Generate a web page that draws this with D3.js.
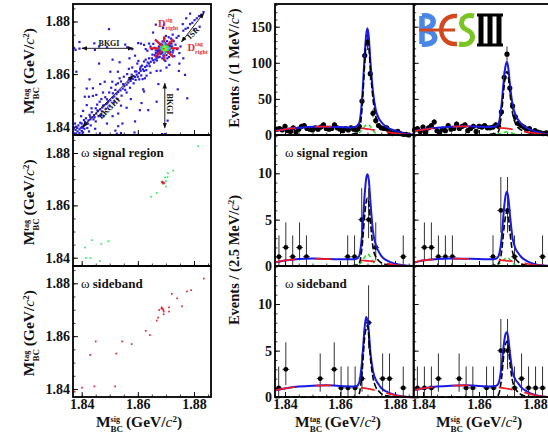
<!DOCTYPE html>
<html>
<head>
<meta charset="utf-8">
<script src="https://cdn.jsdelivr.net/npm/d3@7"></script>
<style>
  html, body { margin: 0; padding: 0; background: #fff; overflow: hidden; }
  text { font-family: "Liberation Serif", serif; font-weight: bold; fill: #111; }
</style>
</head>
<body>
<svg id="chart"></svg>
<script>
(() => {

  // scatter, all events [Msig, Mtag]
  const bandHorizontal = [[1.8372,1.8700],[1.8378,1.8692],[1.8392,1.8722],[1.8392,1.8697],[1.8447,1.8692],[1.8445,1.8717],[1.8462,1.8705],[1.8490,1.8702],[1.8555,1.8712],[1.8562,1.8702],[1.8580,1.8695],[1.8601,1.8718],[1.8611,1.8716],[1.8622,1.8711],[1.8628,1.8695],[1.8634,1.8689],[1.8640,1.8716],[1.8645,1.8705],[1.8650,1.8695],[1.8655,1.8715],[1.8660,1.8700],[1.8664,1.8690],[1.8497,1.8771],[1.8381,1.8609],[1.8418,1.8545],[1.8462,1.8640],[1.8510,1.8655],[1.8535,1.8645],[1.8570,1.8660],[1.8590,1.8670]];
  const cluster = [[1.8660,1.8672],[1.8664,1.8680],[1.8667,1.8662],[1.8670,1.8690],[1.8672,1.8675],[1.8675,1.8705],[1.8677,1.8684],[1.8678,1.8666],[1.8680,1.8695],[1.8681,1.8715],[1.8683,1.8678],[1.8685,1.8688],[1.8686,1.8702],[1.8687,1.8660],[1.8688,1.8724],[1.8690,1.8685],[1.8691,1.8670],[1.8692,1.8708],[1.8693,1.8655],[1.8694,1.8735],[1.8696,1.8680],[1.8698,1.8650],[1.8699,1.8715],[1.8700,1.8745],[1.8702,1.8672],[1.8703,1.8692],[1.8704,1.8725],[1.8705,1.8660],[1.8707,1.8708],[1.8708,1.8682],[1.8710,1.8740],[1.8711,1.8665],[1.8712,1.8700],[1.8714,1.8720],[1.8716,1.8685],[1.8718,1.8735],[1.8720,1.8672],[1.8722,1.8705],[1.8724,1.8750],[1.8726,1.8690],[1.8728,1.8725],[1.8730,1.8668],[1.8734,1.8712],[1.8738,1.8738],[1.8740,1.8695],[1.8745,1.8745],[1.8748,1.8680],[1.8752,1.8705],[1.8690,1.8775],[1.8693,1.8788],[1.8654,1.8758],[1.8664,1.8788],[1.8760,1.8790],[1.8712,1.8635],[1.8702,1.8625],[1.8748,1.8640],[1.8768,1.8597],[1.8746,1.8612],[1.8762,1.8660],[1.8682,1.8688],[1.8684,1.8698],[1.8686,1.8708],[1.8688,1.8682],[1.8689,1.8712],[1.8691,1.8692],[1.8692,1.8702],[1.8698,1.8708],[1.8700,1.8686],[1.8702,1.8704],[1.8704,1.8698],[1.8706,1.8690],[1.8708,1.8702],[1.8710,1.8692],[1.8678,1.8700],[1.8676,1.8692],[1.8712,1.8710],[1.8714,1.8695],[1.8680,1.8678],[1.8716,1.8708],[1.8692,1.8678],[1.8696,1.8718],[1.8668,1.8668],[1.8672,1.8684],[1.8720,1.8716],[1.8724,1.8682],[1.8674,1.8664],[1.8668,1.8652]];
  const bandDiagonal = [[1.8397,1.8396],[1.8402,1.8400],[1.8408,1.8404],[1.8413,1.8411],[1.8418,1.8414],[1.8424,1.8424],[1.8431,1.8428],[1.8438,1.8436],[1.8444,1.8444],[1.8452,1.8450],[1.8458,1.8459],[1.8466,1.8466],[1.8474,1.8473],[1.8480,1.8481],[1.8487,1.8486],[1.8494,1.8495],[1.8502,1.8500],[1.8510,1.8510],[1.8516,1.8515],[1.8524,1.8524],[1.8530,1.8532],[1.8538,1.8538],[1.8546,1.8545],[1.8552,1.8554],[1.8560,1.8560],[1.8566,1.8568],[1.8574,1.8574],[1.8582,1.8582],[1.8590,1.8589],[1.8596,1.8598],[1.8604,1.8604],[1.8610,1.8612],[1.8618,1.8618],[1.8626,1.8627],[1.8632,1.8632],[1.8640,1.8640],[1.8646,1.8647],[1.8654,1.8653],[1.8762,1.8765],[1.8770,1.8772],[1.8778,1.8776],[1.8786,1.8790],[1.8794,1.8795],[1.8802,1.8805],[1.8810,1.8812],[1.8818,1.8820],[1.8826,1.8826],[1.8834,1.8836],[1.8800,1.8770],[1.8786,1.8830],[1.8820,1.8780],[1.8772,1.8812],[1.8568,1.8580],[1.8585,1.8592],[1.8600,1.8590],[1.8608,1.8620],[1.8622,1.8612],[1.8635,1.8644],[1.8642,1.8630],[1.8650,1.8660],[1.8658,1.8644],[1.8662,1.8655],[1.8615,1.8632],[1.8595,1.8610],[1.8578,1.8598],[1.8640,1.8660],[1.8652,1.8674],[1.8628,1.8655]];
  const cloudLower = [[1.8440,1.8546],[1.8428,1.8580],[1.8466,1.8562],[1.8482,1.8571],[1.8509,1.8571],[1.8529,1.8565],[1.8502,1.8609],[1.8529,1.8609],[1.8535,1.8584],[1.8440,1.8517],[1.8411,1.8514],[1.8426,1.8514],[1.8452,1.8521],[1.8464,1.8495],[1.8491,1.8489],[1.8511,1.8527],[1.8520,1.8540],[1.8476,1.8530],[1.8550,1.8590],[1.8568,1.8620],[1.8590,1.8610],[1.8598,1.8640],[1.8610,1.8628],[1.8622,1.8648],[1.8630,1.8615],[1.8612,1.8595],[1.8617,1.8581],[1.8625,1.8584],[1.8631,1.8594],[1.8645,1.8605],[1.8667,1.8612],[1.8681,1.8613],[1.8673,1.8562],[1.8619,1.8542],[1.8622,1.8534],[1.8742,1.8542],[1.8776,1.8508],[1.8613,1.8490],[1.8667,1.8495],[1.8637,1.8463],[1.8607,1.8463],[1.8706,1.8423],[1.8686,1.8372],[1.8696,1.8372],[1.8560,1.8530],[1.8575,1.8505],[1.8540,1.8480],[1.8560,1.8472],[1.8530,1.8450],[1.8510,1.8440],[1.8478,1.8440],[1.8450,1.8420],[1.8490,1.8412],[1.8530,1.8402],[1.8545,1.8412],[1.8520,1.8385],[1.8435,1.8470],[1.8418,1.8482],[1.8405,1.8460],[1.8398,1.8440],[1.8428,1.8445],[1.8450,1.8470],[1.8468,1.8445],[1.8408,1.8425],[1.8395,1.8415],[1.8380,1.8400],[1.8372,1.8394],[1.8378,1.8388],[1.8385,1.8382],[1.8392,1.8390],[1.8400,1.8384],[1.8372,1.8375],[1.8380,1.8374],[1.8392,1.8376],[1.8405,1.8378],[1.8420,1.8395],[1.8432,1.8405],[1.8448,1.8392],[1.8465,1.8375],[1.8525,1.8373],[1.8540,1.8376],[1.8588,1.8378],[1.8590,1.8420],[1.8415,1.8432],[1.8422,1.8412],[1.8436,1.8455],[1.8442,1.8428],[1.8455,1.8484],[1.8460,1.8440],[1.8470,1.8505],[1.8472,1.8458],[1.8484,1.8512],[1.8486,1.8468],[1.8498,1.8530],[1.8500,1.8478],[1.8505,1.8548],[1.8515,1.8492],[1.8522,1.8560],[1.8528,1.8505],[1.8540,1.8572],[1.8542,1.8518],[1.8548,1.8562],[1.8555,1.8540],[1.8562,1.8600],[1.8572,1.8548],[1.8580,1.8625],[1.8585,1.8565],[1.8592,1.8578],[1.8602,1.8650],[1.8605,1.8580],[1.8388,1.8405],[1.8400,1.8412],[1.8376,1.8412],[1.8410,1.8392],[1.8426,1.8382],[1.8384,1.8395],[1.8404,1.8396],[1.8412,1.8418],[1.8430,1.8438],[1.8446,1.8436],[1.8456,1.8462],[1.8476,1.8480],[1.8490,1.8504]];

  // colour cells of the dense core [Msig, Mtag, level]
  const coreCells = [[1.8688,1.8692,1],[1.8688,1.8698,1],[1.8688,1.8704,1],[1.8694,1.8686,1],[1.8694,1.8692,2],[1.8694,1.8698,4],[1.8694,1.8704,2],[1.8694,1.8710,1],[1.8700,1.8692,2],[1.8700,1.8698,3],[1.8700,1.8704,2],[1.8706,1.8692,1],[1.8706,1.8698,1],[1.8706,1.8704,1],[1.8682,1.8698,0],[1.8712,1.8698,0],[1.8694,1.8680,0],[1.8694,1.8716,0]];
  const coreLevels = ['#22c8e8', '#33ee55', '#a8e020', '#ffd020', '#f02820'];
  const coreCentre = [1.8694, 1.8698];
  const redArms = [[-0.0052,0],[0.0052,0],[0,-0.0046],[0,0.0046],[-0.0033,-0.0034],[0.0033,0.0034],[-0.0033,0.0034],[0.0033,-0.0034]];

  const omegaSignal = [[1.8815,1.8826],[1.8726,1.8733],[1.8707,1.8723],[1.8706,1.8708],[1.8697,1.8707],[1.8700,1.8693],[1.8700,1.8672],[1.8688,1.8683],[1.8667,1.8647],[1.8647,1.8633],[1.8436,1.8467],[1.8495,1.8463],[1.8470,1.8453],[1.8412,1.8439],[1.8415,1.8399],[1.8431,1.8399],[1.8465,1.8387]];
  const omegaSignalRed = [[1.8692,1.8685],[1.8687,1.8689]];
  const omegaSideband = [[1.8835,1.8818],[1.8790,1.8774],[1.8775,1.8769],[1.8721,1.8760],[1.8740,1.8743],[1.8757,1.8713],[1.8711,1.8709],[1.8711,1.8693],[1.8685,1.8709],[1.8676,1.8699],[1.8691,1.8699],[1.8684,1.8704],[1.8689,1.8703],[1.8692,1.8693],[1.8692,1.8683],[1.8672,1.8670],[1.8667,1.8659],[1.8628,1.8620],[1.8643,1.8604],[1.8578,1.8570],[1.8544,1.8580],[1.8450,1.8580],[1.8430,1.8529],[1.8523,1.8534],[1.8401,1.8405],[1.8445,1.8410],[1.8519,1.8410],[1.8375,1.8390]];

  // binned projections
  const binsTop = d3.range(49).map(i => 1.837 + 0.001 * i);
  const countsTopTag = [8,9,7,12,6,5,10,4,8,12,13,9,8,7,10,8,11,14,9,8,9,14,10,8,6,9,7,10,8,7,12,47,110,129,85,30,20,13,10,9,10,5,2,4,5,2,1,1,0];
  const countsTopSig = [7,9,5,11,4,10,13,18,6,4,8,6,13,8,9,15,9,12,14,6,9,12,5,12,11,13,10,10,11,14,12,32,80,112,65,40,25,16,13,11,8,9,3,6,4,3,2,3,1];

  const binsSignalTag = [1.8378,1.8403,1.8428,1.8453,1.8478,1.8628,1.8653,1.8679,1.8704,1.8730,1.8830];
  const countsSignalTag = [1,2,1,2,1,1,1,5,5,2,1];
  const binsSignalSig = [1.8405,1.8430,1.8455,1.8480,1.8505,1.8650,1.8678,1.8702,1.8727,1.8827];
  const countsSignalSig = [2,2,1,1,1,1,6,6,1,1];
  const binsSideTag = [1.8377,1.8403,1.8528,1.8579,1.8604,1.8629,1.8655,1.8680,1.8704,1.8755,1.8780,1.8830];
  const countsSideTag = [1,3,2,3,1,1,1,2,8,2,2,1];
  const binsSideSig = [1.8380,1.8405,1.8430,1.8455,1.8529,1.8554,1.8578,1.8627,1.8652,1.8678,1.8702,1.8727,1.8752,1.8777,1.8802,1.8827];
  const countsSideSig = [1,1,1,2,2,1,1,1,1,5,5,1,2,1,1,1];

  // error bar ends for small counts, index = count
  const poissonHigh = [0,3.3,4.7,5.9,7.2,8.4,9.6,10.8,12];
  const poissonLow = [0,0,0.6,1.3,2,3,3.6,4.4,5.2];

  // fit curves
  const curveX = [1.8365,1.84,1.845,1.85,1.855,1.86,1.864,1.866,1.867,1.868,1.869,1.8695,1.87,1.8705,1.871,1.872,1.873,1.874,1.875,1.877,1.88,1.883,1.8868];

  const blueTopTag = [5.5,8,10,11.5,11.5,11,10.5,12,17,48,112,138,148,135,105,60,35,24,18,11,6,2.5,0.3];
  const blackTopTag = [0,0,0,0,0,0.2,1,2,6,36,100,126,133,122,94,50,26,16,11,6,2.5,1,0];
  const greenTopTag = [0,0,0,0,0,0,0,0.5,3,7,12,14,15,14,12,6,2,0.5,0,0,0,0,0];
  const redTopTag = [5.5,8,10,11.5,11.7,11.3,10.5,10,9.6,9.2,8.8,8.5,8.2,8,7.8,7.2,6.5,5.9,5.2,4,2.5,1,0.1];

  const blueTopSig = [5,7.5,10,11.5,12,11.5,11,12,16,40,82,96,101,92,72,42,28,21,16,10,5,2,0.2];
  const blackTopSig = [0,0,0,0,0,0.2,1,2,5,28,68,84,88,80,60,30,16,10,7,4,2,0.8,0];
  const greenTopSig = [0,0,0,0,0,0,0,0.5,1.5,2.5,3.5,4,4,4,3.5,2.5,1.5,0.5,0,0,0,0,0];
  const redTopSig = [5,7.5,10,11.5,12,11.5,11,10.5,10,9.7,9.4,9.2,9,8.8,8.6,8,7.2,6.5,5.7,4.3,2.5,1,0.1];

  const blueSignalTag = [0.4,0.6,0.75,0.8,0.75,0.72,0.72,0.78,1.1,3.3,7.8,9.4,9.9,9.2,7.2,3.7,2.3,1.6,1.1,0.6,0.25,0.08,0];
  const blackSignalTag = [0,0,0,0,0,0,0.02,0.1,0.3,2,5.6,6.9,7.3,6.7,5,2,1,0.6,0.35,0.15,0.05,0.02,0];
  const greenSignalTag = [0,0,0,0,0,0,0,0.05,0.2,0.5,1,1.2,1.3,1.2,1,0.5,0.15,0.05,0,0,0,0,0];
  const redSignalTag = [0.4,0.6,0.75,0.8,0.75,0.72,0.7,0.66,0.62,0.6,0.58,0.56,0.55,0.54,0.52,0.5,0.46,0.42,0.36,0.26,0.13,0.05,0];

  const blueSignalSig = [0.35,0.6,0.75,0.8,0.78,0.75,0.72,0.78,1.1,2.8,6.4,7.6,8,7.3,5.7,3,1.9,1.4,1,0.55,0.2,0.06,0];
  const blackSignalSig = [0,0,0,0,0,0,0.02,0.1,0.3,1.4,4.3,5.4,5.9,5.3,3.8,1.5,0.8,0.45,0.25,0.1,0.03,0.01,0];
  const greenSignalSig = [0,0,0,0,0,0,0,0.05,0.2,0.4,0.7,0.85,0.9,0.85,0.7,0.35,0.1,0.03,0,0,0,0,0];
  const redSignalSig = [0.35,0.6,0.75,0.8,0.78,0.75,0.72,0.68,0.64,0.62,0.6,0.58,0.56,0.55,0.53,0.5,0.45,0.4,0.35,0.25,0.12,0.04,0];

  const blueSideTag = [0.75,0.95,1.15,1.25,1.28,1.22,1.15,1.18,1.6,3.8,7.6,8.6,8.2,7,5,2.8,1.9,1.4,1,0.6,0.25,0.08,0];
  const blackSideTag = [0,0,0,0,0,0,0.02,0.05,0.4,2.6,6.5,7.4,7.7,6.4,4.5,2.1,1.1,0.7,0.4,0.15,0.05,0.01,0];
  const redSideTag = [0.75,0.95,1.15,1.25,1.28,1.22,1.15,1.1,1.06,1.02,0.98,0.95,0.92,0.9,0.88,0.82,0.75,0.68,0.6,0.45,0.22,0.07,0];

  const blueSideSig = [0.75,0.95,1.15,1.25,1.28,1.22,1.15,1.2,1.5,3.2,6,6.8,7,6.3,4.9,2.7,1.9,1.5,1.1,0.65,0.25,0.08,0];
  const blackSideSig = [0,0,0,0,0,0,0.02,0.05,0.3,1.9,4.9,5.7,6,5.3,3.8,1.7,0.9,0.55,0.3,0.12,0.04,0.01,0];
  const redSideSig = [0.75,0.95,1.15,1.25,1.28,1.22,1.15,1.1,1.06,1.02,0.98,0.95,0.92,0.9,0.88,0.82,0.75,0.68,0.6,0.45,0.22,0.07,0];

  const massTicks = [1.84, 1.86, 1.88];
  const massMinor = d3.range(1.84, 1.8851, 0.005);

  const svg = d3.select('#chart').attr('width', 548).attr('height', 433);
  svg.append('rect').attr('width', 548).attr('height', 433).attr('fill', '#fff');

  const serif = '"Liberation Serif", serif';

  function massTitle(sel, sup, fontSize) {
    const t = sel.append('text').attr('font-size', fontSize).attr('text-anchor', 'middle');
    t.append('tspan').text('M');
    t.append('tspan').attr('font-size', 9).attr('dy', 5).text('BC');
    t.append('tspan').attr('font-size', 8).attr('dx', -12.5).attr('dy', -10.5).text(sup);
    t.append('tspan').attr('dy', 5.5).attr('dx', sup === 'sig' ? 6 : 4.5).text('(GeV/');
    t.append('tspan').attr('font-style', 'italic').attr('font-weight', 'normal').text('c');
    t.append('tspan').attr('font-size', 9).attr('dy', -5).text('2');
    t.append('tspan').attr('dy', 5).text(')');
    return t;
  }

  function eventsTitle(sel, label) {
    const t = sel.append('text').attr('font-size', 14.5).attr('text-anchor', 'middle');
    t.append('tspan').text(`Events / (${label} MeV/`);
    t.append('tspan').attr('font-style', 'italic').attr('font-weight', 'normal').text('c');
    t.append('tspan').attr('font-size', 9).attr('dy', -5).text('2');
    t.append('tspan').attr('dy', 5).text(')');
    return t;
  }

  function drawAxes(g, x, y, top, bottom, left, right, yMajor, yMinor, yFormat, xLabels) {
    const style = (a, width) => {
      a.select('.domain').remove();
      a.selectAll('line').attr('stroke', '#111').attr('stroke-width', width);
      a.selectAll('text').attr('font-size', 14).attr('font-family', serif);
    };
    g.append('g').attr('transform', `translate(${left},0)`)
      .call(d3.axisLeft(y).tickValues(yMinor).tickSize(-2.5).tickFormat(''))
      .call(a => style(a, 0.8));
    g.append('g').attr('transform', `translate(${left},0)`)
      .call(d3.axisLeft(y).tickValues(yMajor).tickSize(-5).tickPadding(3).tickFormat(yFormat))
      .call(a => style(a, 1));
    g.append('g').attr('transform', `translate(0,${bottom})`)
      .call(d3.axisBottom(x).tickValues(massMinor).tickSize(-2.5).tickFormat(''))
      .call(a => style(a, 0.8));
    g.append('g').attr('transform', `translate(0,${bottom})`)
      .call(d3.axisBottom(x).tickValues(massTicks).tickSize(-5).tickPadding(2).tickFormat(xLabels ? d3.format('.2f') : ''))
      .call(a => style(a, 1));
  }

  function frame(g, left, right, top, bottom) {
    g.append('rect')
      .attr('x', left).attr('y', top)
      .attr('width', right - left).attr('height', bottom - top)
      .attr('fill', 'none').attr('stroke', '#000').attr('stroke-width', 1.8);
  }

  function dots(g, x, y, points, color, size) {
    g.append('g').selectAll('rect')
      .data(points)
      .join('rect')
      .attr('x', d => x(d[0]) - size / 2)
      .attr('y', d => y(d[1]) - size / 2)
      .attr('width', size).attr('height', size)
      .attr('fill', color);
  }

  // left column
  const xLeft = d3.scaleLinear().domain([1.84, 1.88]).range([81.7, 194]);
  const scatterPanels = [
    { top: 4, bottom: 135, y188: 21.5, y184: 126.7 },
    { top: 135, bottom: 266, y188: 153, y184: 257.7 },
    { top: 266, bottom: 397, y188: 283.3, y184: 389 }
  ];
  const scatterScales = scatterPanels.map(p => d3.scaleLinear().domain([1.84, 1.88]).range([p.y184, p.y188]));

  scatterPanels.forEach((p, i) => {
    const g = svg.append('g');
    const y = scatterScales[i];
    drawAxes(g, xLeft, y, p.top, p.bottom, 73, 211, massTicks, massMinor.concat([1.835]).filter(v => y(v) < p.bottom), d3.format('.2f'), i === 2);
    massTitle(g.append('g').attr('transform', `translate(34,${(p.y188 + p.y184) / 2 - 3}) rotate(-90)`), 'tag', 15.5);
  });

  // top scatter
  const gTop = svg.append('g');
  const yA = scatterScales[0];
  const dotBlue = '#2a1edc';
  [bandHorizontal, cluster, bandDiagonal, cloudLower].forEach(points => dots(gTop, xLeft, yA, points, dotBlue, 2.2));
  gTop.append('g').selectAll('line')
    .data(redArms)
    .join('line')
    .attr('x1', xLeft(coreCentre[0])).attr('y1', yA(coreCentre[1]))
    .attr('x2', d => xLeft(coreCentre[0] + d[0])).attr('y2', d => yA(coreCentre[1] + d[1]))
    .attr('stroke', '#e8102a').attr('stroke-width', 2.2);
  gTop.append('g').selectAll('rect')
    .data(coreCells)
    .join('rect')
    .attr('x', d => xLeft(d[0]) - 1.2).attr('y', d => yA(d[1]) - 1.2)
    .attr('width', 2.4).attr('height', 2.4)
    .attr('fill', d => coreLevels[d[2]]);

  svg.append('defs').append('marker')
    .attr('id', 'head').attr('viewBox', '0 0 8 6')
    .attr('refX', 7).attr('refY', 3)
    .attr('markerWidth', 6).attr('markerHeight', 5).attr('orient', 'auto-start-reverse')
    .append('path').attr('d', 'M0,0L8,3L0,6Z').attr('fill', '#111');

  const arrows = [
    [[1.8401, 1.8698], [1.8583, 1.8698], true],
    [[1.8696, 1.8565], [1.8696, 1.8396], true],
    [[1.8403, 1.8399], [1.8583, 1.8595], true],
    [[1.8756, 1.8723], [1.8835, 1.8832], true]
  ];
  gTop.append('g').selectAll('line')
    .data(arrows)
    .join('line')
    .attr('x1', d => xLeft(d[0][0])).attr('y1', d => yA(d[0][1]))
    .attr('x2', d => xLeft(d[1][0])).attr('y2', d => yA(d[1][1]))
    .attr('stroke', '#222').attr('stroke-width', 1)
    .attr('marker-start', d => d[2] ? 'url(#head)' : null)
    .attr('marker-end', 'url(#head)');

  const annotate = (txt, px, py, rot) => gTop.append('text')
    .attr('transform', `translate(${px},${py}) rotate(${rot})`)
    .attr('text-anchor', 'middle').attr('font-size', 8).text(txt);
  annotate('BKGI', 109, 46, 0);
  annotate('BKGI', 167, 104, 90);
  annotate('BKGIII', 111, 110, -45);
  annotate('ISR', 195, 35, -45);

  function redMass(px, py, sup) {
    const t = gTop.append('text').attr('x', px).attr('y', py).attr('font-size', 10.5);
    t.append('tspan').attr('fill', '#e0303a').text('D');
    t.append('tspan').attr('fill', '#e0303a').attr('font-size', 6).attr('dy', -5).text(sup);
    t.append('tspan').attr('fill', '#e0303a').attr('font-size', 6).attr('dx', sup === 'sig' ? -7 : -8).attr('dy', 8).text('right');
  }
  redMass(158, 27, 'sig');
  redMass(187.5, 50.5, 'tag');

  // omega scatter panels
  const gMid = svg.append('g');
  dots(gMid, xLeft, scatterScales[1], omegaSignal, '#33ee55', 1.7);
  dots(gMid, xLeft, scatterScales[1], omegaSignalRed, '#ee2030', 2.4);
  dots(gMid, xLeft, scatterScales[2], omegaSideband, '#ee2030', 1.7);

  const lab = (px, py, word) => {
    const t = svg.append('text').attr('x', px).attr('y', py).attr('font-size', 13);
    t.append('tspan').attr('font-weight', 'normal').text('ω ');
    t.append('tspan').text(word);
  };
  lab(81, 157, 'signal region');
  lab(81, 288, 'sideband');
  lab(285, 157, 'signal region');
  lab(285, 288, 'sideband');

  // right column
  const xTag = d3.scaleLinear().domain([1.84, 1.88]).range([285, 395]);
  const xSig = d3.scaleLinear().domain([1.84, 1.88]).range([423, 535]);

  const rows = [
    { top: 4, bottom: 135, y: d3.scaleLinear().domain([0, 150]).range([135, 26.7]), major: [0, 50, 100, 150], minor: d3.range(0, 181, 10), poisson: false, r: 2.6, halfBin: 0.0005 },
    { top: 135, bottom: 266, y: d3.scaleLinear().domain([0, 10]).range([266, 173.3]), major: [0, 5, 10], minor: d3.range(0, 14.1, 1), poisson: true, r: 2.4, halfBin: 0.00125 },
    { top: 266, bottom: 397, y: d3.scaleLinear().domain([0, 10]).range([397.3, 304]), major: [0, 5, 10], minor: d3.range(0, 14.1, 1), poisson: true, r: 2.4, halfBin: 0.00125 }
  ];

  const cells = [
    { row: 0, x: xTag, left: 275, right: 413.7, bins: binsTop, counts: countsTopTag, blue: blueTopTag, black: blackTopTag, green: greenTopTag, red: redTopTag, labels: true },
    { row: 0, x: xSig, left: 413.7, right: 552, bins: binsTop, counts: countsTopSig, blue: blueTopSig, black: blackTopSig, green: greenTopSig, red: redTopSig, labels: false },
    { row: 1, x: xTag, left: 275, right: 413.7, bins: binsSignalTag, counts: countsSignalTag, blue: blueSignalTag, black: blackSignalTag, green: greenSignalTag, red: redSignalTag, labels: true },
    { row: 1, x: xSig, left: 413.7, right: 552, bins: binsSignalSig, counts: countsSignalSig, blue: blueSignalSig, black: blackSignalSig, green: greenSignalSig, red: redSignalSig, labels: false },
    { row: 2, x: xTag, left: 275, right: 413.7, bins: binsSideTag, counts: countsSideTag, blue: blueSideTag, black: blackSideTag, green: null, red: redSideTag, labels: true },
    { row: 2, x: xSig, left: 413.7, right: 552, bins: binsSideSig, counts: countsSideSig, blue: blueSideSig, black: blackSideSig, green: null, red: redSideSig, labels: false }
  ];

  cells.forEach(c => {
    const row = rows[c.row];
    const g = svg.append('g');
    const y = row.y;
    drawAxes(g, c.x, y, row.top, row.bottom, c.left, c.right, row.major, row.minor.filter(v => y(v) > row.top), c.labels ? d3.format('d') : '', c.row === 2);

    const line = values => d3.line()
      .x((d, k) => c.x(curveX[k]))
      .y((d, k) => y(values[k]))
      .curve(d3.curveMonotoneX)(values);

    const plot = (values, color, width, dash) => g.append('path')
      .attr('d', line(values))
      .attr('fill', 'none')
      .attr('stroke', color)
      .attr('stroke-width', width)
      .attr('stroke-dasharray', dash);

    const points = g.append('g');
    points.selectAll('line.err')
      .data(c.counts)
      .join('line')
      .attr('class', 'err')
      .attr('x1', (d, k) => c.x(c.bins[k])).attr('x2', (d, k) => c.x(c.bins[k]))
      .attr('y1', d => y(row.poisson ? poissonHigh[d] : d + Math.sqrt(d)))
      .attr('y2', d => y(row.poisson ? poissonLow[d] : d - Math.sqrt(d)))
      .attr('stroke', '#333').attr('stroke-width', 1);
    points.selectAll('line.bin')
      .data(c.counts)
      .join('line')
      .attr('class', 'bin')
      .attr('x1', (d, k) => c.x(c.bins[k] - row.halfBin)).attr('x2', (d, k) => c.x(c.bins[k] + row.halfBin))
      .attr('y1', d => y(d)).attr('y2', d => y(d))
      .attr('stroke', '#222').attr('stroke-width', 0.8);
    points.selectAll('circle')
      .data(c.counts)
      .join('circle')
      .attr('cx', (d, k) => c.x(c.bins[k]))
      .attr('cy', d => y(d))
      .attr('r', row.r)
      .attr('fill', '#000');

    plot(c.blue, '#1a1ae0', 2, null);
    if (c.green) plot(c.green, '#22dd22', 1.5, '4 3');
    plot(c.black, '#000', 1.6, '6 2.5');
    plot(c.red, '#ee1c25', 1.7, '20 20 16 30 14 12 40');
  });

  rows.forEach(row => {
    frame(svg, 275, 413.7, row.top, row.bottom);
    frame(svg, 413.7, 552, row.top, row.bottom);
  });
  scatterPanels.forEach(p => frame(svg, 73, 211, p.top, p.bottom));

  eventsTitle(svg.append('g').attr('transform', 'translate(239,68) rotate(-90)'), '1');
  eventsTitle(svg.append('g').attr('transform', 'translate(239,260) rotate(-90)'), '2.5');

  massTitle(svg.append('g').attr('transform', 'translate(139,427)'), 'sig', 15.5);
  massTitle(svg.append('g').attr('transform', 'translate(338,427)'), 'tag', 15.5);
  massTitle(svg.append('g').attr('transform', 'translate(479,427)'), 'sig', 15.5);

  // logo
  const logo = svg.append('g').attr('fill', 'none').attr('stroke-linecap', 'butt');
  logo.append('path')
    .attr('d', 'M422,16 L422,44 M422,16 C436,14 438,27 422,30 C440,31 438,46 422,44')
    .attr('stroke', '#4a86e8').attr('stroke-width', 5.5);
  logo.append('path')
    .attr('d', 'M457,16 C436,14 436,46 457,44')
    .attr('stroke', '#d2491f').attr('stroke-width', 4.5);
  logo.append('path')
    .attr('d', 'M419,30 L455,30')
    .attr('stroke', '#d2491f').attr('stroke-width', 3);
  logo.append('path')
    .attr('d', 'M474,16 C460,13 458,27 467,30 C477,34 473,47 459,44')
    .attr('stroke', '#7ac520').attr('stroke-width', 5);
  logo.append('path')
    .attr('d', 'M477,15 L503,15 M477,45 L503,45')
    .attr('stroke', '#000').attr('stroke-width', 3);
  logo.append('path')
    .attr('d', 'M481,15 L481,45 M490,15 L490,45 M499,15 L499,45')
    .attr('stroke', '#000').attr('stroke-width', 5);

})();
</script>
</body>
</html>
